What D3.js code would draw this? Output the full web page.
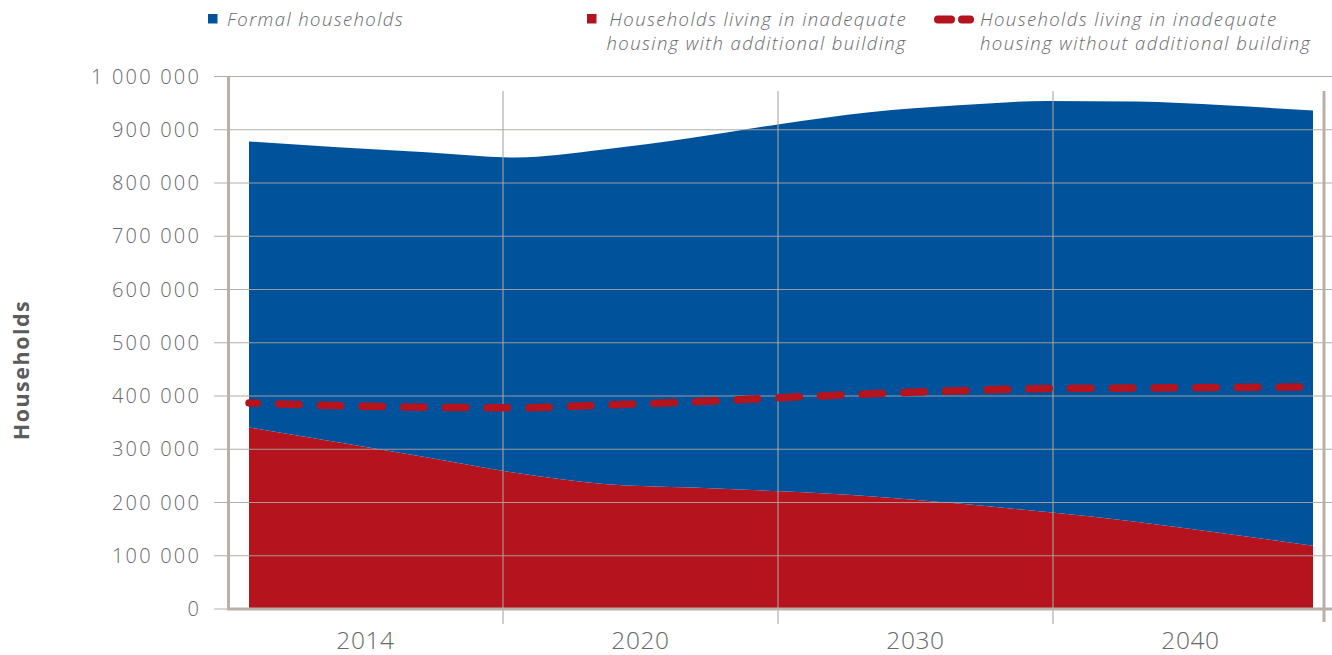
<!DOCTYPE html>
<html>
<head>
<meta charset="utf-8">
<script src="https://cdn.jsdelivr.net/npm/d3@7/dist/d3.min.js"></script>
<style>
  html, body { margin: 0; padding: 0; background: #ffffff; }
  svg { display: block; font-family: "Open Sans", "Noto Sans", sans-serif; }
</style>
</head>
<body>
<svg id="chart" width="1332" height="655"></svg>
<script>
// ---- data -------------------------------------------------------------
// Projection sampled every three years
const years = [2014, 2017, 2020, 2023, 2026, 2029, 2032, 2035, 2038, 2041, 2044, 2047, 2050];

// Households living in inadequate housing with additional building
const inadequateWithBuilding = [340000, 312000, 284000, 255000, 234000, 227000, 220000, 211000, 197000, 181000, 163000, 141000, 118000];

// Formal households (stacked on top of the inadequate-housing series)
const formalHouseholds = [537000, 554000, 573000, 592000, 628000, 657000, 690000, 721000, 748000, 772000, 789000, 804000, 817000];

// Households living in inadequate housing without additional building
const inadequateWithoutBuilding = [386000, 381000, 378000, 377000, 382000, 388000, 396000, 403000, 409000, 413000, 414000, 415000, 416000];

// Period labels along the horizontal axis
const periodLabels = ["2014", "2020", "2030", "2040"];

// Value axis ticks
const yTicks = [0, 100000, 200000, 300000, 400000, 500000, 600000, 700000, 800000, 900000, 1000000];

const legendLabels = [
  ["Formal households"],
  ["Households living in inadequate", "housing with additional building"],
  ["Households living in inadequate", "housing without additional building"]
];

// ---- styles -----------------------------------------------------------
const BLUE = "#00529b";
const RED = "#b5131d";
const AXIS = "#bab0a7";
const GRID = "#aaa49e";
const TEXT = "#67686b";

const svg = d3.select("#chart");

// ---- scales -----------------------------------------------------------
const y = d3.scaleLinear().domain([0, 1000000]).range([608.5, 76]);
const xBand = d3.scaleBand().domain(periodLabels).range([228, 1328]).padding(0);
const x = d3.scaleLinear().domain([years[0], years[years.length - 1]]).range([249, 1313]);

const rows = years.map((yr, i) => ({
  year: yr,
  inadequate: inadequateWithBuilding[i],
  formal: formalHouseholds[i],
  without: inadequateWithoutBuilding[i]
}));

const stack = d3.stack().keys(["inadequate", "formal"]);
const layers = stack(rows);
const colours = { inadequate: RED, formal: BLUE };

const area = d3.area()
  .x(d => x(d.data.year))
  .y0(d => y(d[0]))
  .y1(d => y(d[1]))
  .curve(d3.curveMonotoneX);

// ---- stacked areas ----------------------------------------------------
svg.append("g")
  .selectAll("path")
  .data(layers)
  .join("path")
  .attr("d", area)
  .attr("fill", d => colours[d.key]);

// ---- grid -------------------------------------------------------------
const fmt = d3.formatLocale({ decimal: ".", thousands: " ", grouping: [3], currency: ["", ""] }).format(",d");

const yAxis = d3.axisLeft(y)
  .tickValues(yTicks)
  .tickSize(-(1332 - 228))
  .tickPadding(13)
  .tickFormat(fmt);

const gy = svg.append("g")
  .attr("transform", "translate(228,0)")
  .call(yAxis);
gy.select(".domain").remove();
gy.selectAll(".tick line")
  .attr("x1", -14)
  .attr("stroke", GRID)
  .attr("stroke-width", 1.2)
  .attr("stroke-opacity", 0.9);
gy.selectAll(".tick text")
  .attr("x", -27)
  .attr("fill", TEXT)
  .attr("font-size", 20)
  .attr("font-weight", 300)
  .attr("letter-spacing", 2.2)
  .attr("dy", "0.36em")
  .attr("font-family", "'Open Sans', sans-serif");

// vertical separators between periods
const bandEdges = periodLabels.slice(1).map(p => xBand(p));
svg.append("g")
  .selectAll("line")
  .data(bandEdges)
  .join("line")
  .attr("x1", d => d).attr("x2", d => d)
  .attr("y1", 91).attr("y2", 624)
  .attr("stroke", GRID)
  .attr("stroke-width", 1.2)
  .attr("stroke-opacity", 0.9);

// ---- axis lines ------------------------------------------------------
const axisG = svg.append("g").attr("stroke", AXIS).attr("stroke-width", 3);
axisG.append("line").attr("x1", 228.5).attr("x2", 228.5).attr("y1", y(1000000) + 1).attr("y2", y(0) + 1.5);
axisG.append("line").attr("x1", 227).attr("x2", 1332).attr("y1", y(0) + 0.5).attr("y2", y(0) + 0.5);
axisG.append("line").attr("x1", xBand.range()[1] - 4).attr("x2", xBand.range()[1] - 4).attr("y1", 91).attr("y2", 622);

// ---- period labels ---------------------------------------------------
svg.append("g")
  .selectAll("text")
  .data(periodLabels)
  .join("text")
  .attr("x", d => xBand(d) + xBand.bandwidth() / 2)
  .attr("y", 649)
  .attr("text-anchor", "middle")
  .attr("fill", TEXT)
  .attr("font-size", 24.5)
  .attr("font-weight", 300)
  .attr("letter-spacing", 0.6)
  .text(d => d);

// ---- dashed line -----------------------------------------------------
const line = d3.line()
  .x(d => x(d.year))
  .y(d => y(d.without))
  .curve(d3.curveMonotoneX);

svg.append("path")
  .datum(rows)
  .attr("d", line)
  .attr("fill", "none")
  .attr("stroke", RED)
  .attr("stroke-width", 7.5)
  .attr("stroke-linecap", "round")
  .attr("stroke-dasharray", "20.4 21.3")
  .attr("stroke-dashoffset", 12);

// ---- y title ---------------------------------------------------------
svg.append("text")
  .attr("transform", "translate(29,370) rotate(-90)")
  .attr("text-anchor", "middle")
  .attr("fill", "#5b5c5e")
  .attr("font-size", 21.5)
  .attr("font-weight", 700)
  .attr("letter-spacing", 1.5)
  .text("Households");

// ---- legend ----------------------------------------------------------
const legend = svg.append("g")
  .attr("font-size", 18.5)
  .attr("font-style", "italic")
  .attr("font-weight", 300)
  .attr("letter-spacing", 1.4)
  .attr("fill", TEXT);

legend.append("rect").attr("x", 208).attr("y", 14).attr("width", 9.5).attr("height", 9.5).attr("fill", BLUE);
legend.append("text").attr("x", 227).attr("y", 26).text(legendLabels[0][0]);

legend.append("rect").attr("x", 587).attr("y", 14).attr("width", 9.5).attr("height", 9.5).attr("fill", RED);
legend.append("g").selectAll("text")
  .data(legendLabels[1])
  .join("text")
  .attr("x", 907)
  .attr("y", (d, i) => 26 + i * 24)
  .attr("text-anchor", "end")
  .text(d => d);

const pill = legend.append("g").attr("stroke", RED).attr("stroke-width", 8).attr("stroke-linecap", "round");
pill.append("line").attr("x1", 938).attr("x2", 951).attr("y1", 19.5).attr("y2", 19.5);
pill.append("line").attr("x1", 962).attr("x2", 970).attr("y1", 19.5).attr("y2", 19.5);
legend.append("g").selectAll("text")
  .data(legendLabels[2])
  .join("text")
  .attr("x", 980)
  .attr("y", (d, i) => 26 + i * 24)
  .text(d => d);
</script>
</body>
</html>
